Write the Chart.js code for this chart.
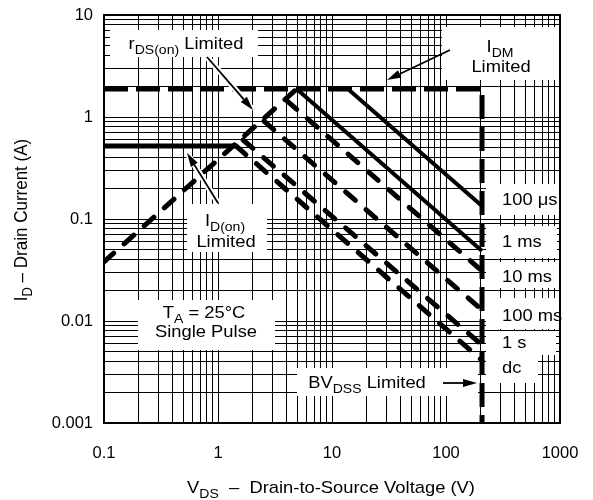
<!DOCTYPE html>
<html>
<head>
<meta charset="utf-8">
<script src="https://cdn.jsdelivr.net/npm/chart.js@4/dist/chart.umd.min.js"></script>
<style>
html,body{margin:0;padding:0;background:#fff;}
#wrap{width:593px;height:500px;position:relative;}
</style>
</head>
<body>
<div id="wrap"><canvas id="c" width="593" height="500"></canvas></div>
<script>
// ---- axis ticks ----
const xDecadeValues = [0.1, 1, 10, 100, 1000];
const xTickLabels   = ['0.1', '1', '10', '100', '1000'];
const yDecadeValues = [0.001, 0.01, 0.1, 1, 10];
const yTickLabels   = ['0.001', '0.01', '0.1', '1', '10'];
const minorSteps    = [1, 2, 3, 4, 5, 6, 7, 8, 9];

// ---- series: [V_DS (V), I_D (A)] ----
const idmBvLimit = [[0.1, 1.88], [207, 1.88], [207, 0.001]];
const idOnLimit  = [[0.1, 0.52], [1.44, 0.52]];
const rdsOnLimit = [[0.1, 0.038], [4.9, 1.88]];
const pulse100us = [[13.8, 1.88], [207, 0.134]];
const pulse1ms   = [[4.9, 1.88], [207, 0.0485]];
const pulse10ms  = [[4.03, 1.44], [207, 0.031]];
const pulse100ms = [[2.53, 0.91], [207, 0.0128]];
const pulse1s    = [[1.66, 0.595], [207, 0.0058]];
const pulseDC    = [[1.44, 0.52], [207, 0.0041]];

const FONT = '"Liberation Sans", Arial, Helvetica, sans-serif';

function gridValues(decades) {
  const out = [];
  for (let i = 0; i < decades.length - 1; i++) {
    for (const m of minorSteps) out.push(+(decades[i] * m).toPrecision(6));
  }
  out.push(decades[decades.length - 1]);
  return out;
}
function labelFor(decades, labels, v) {
  const i = decades.findIndex(d => Math.abs(d - v) / d < 1e-6);
  return i >= 0 ? labels[i] : '';
}
function toXY(arr) { return arr.map(([x, y]) => ({x, y})); }

function ds(label, arr, width, dash, cap) {
  return {
    label, data: toXY(arr), borderColor: '#000', backgroundColor: '#000',
    borderWidth: width, borderDash: dash || [], borderCapStyle: cap || 'butt',
    borderJoinStyle: 'miter', pointRadius: 0, fill: false, tension: 0
  };
}

function drawRich(ctx, parts, x, y, size, align, sx, subSize, subOff) {
  ctx.save();
  ctx.translate(x, y);
  ctx.scale(sx, 1);
  const sizes = parts.map(p => p.sub ? subSize : size);
  const widths = parts.map((p, i) => { ctx.font = sizes[i] + 'px ' + FONT; return ctx.measureText(p.t).width; });
  const total = widths.reduce((a, b) => a + b, 0);
  let cx = align === 'center' ? -total / 2 : (align === 'right' ? -total : 0);
  ctx.textBaseline = 'alphabetic';
  ctx.textAlign = 'left';
  ctx.fillStyle = '#000';
  parts.forEach((p, i) => {
    ctx.font = sizes[i] + 'px ' + FONT;
    ctx.fillText(p.t, cx, p.sub ? subOff : 0);
    cx += widths[i];
  });
  ctx.restore();
}

function arrow(ctx, x1, y1, x2, y2, halo) {
  const a = Math.atan2(y2 - y1, x2 - x1);
  const L = 14, W = 4;
  const bx = x2 - L * Math.cos(a), by = y2 - L * Math.sin(a);
  ctx.save();
  if (halo) {
    ctx.strokeStyle = '#fff'; ctx.lineWidth = 6; ctx.lineCap = 'butt';
    ctx.beginPath(); ctx.moveTo(x1, y1); ctx.lineTo(x2, y2); ctx.stroke();
  }
  ctx.strokeStyle = '#000'; ctx.lineWidth = 1.8;
  ctx.beginPath(); ctx.moveTo(x1, y1); ctx.lineTo(bx, by); ctx.stroke();
  ctx.fillStyle = '#000';
  ctx.beginPath();
  ctx.moveTo(x2, y2);
  ctx.lineTo(bx + W * Math.sin(a), by - W * Math.cos(a));
  ctx.lineTo(bx - W * Math.sin(a), by + W * Math.cos(a));
  ctx.closePath(); ctx.fill();
  ctx.restore();
}

const whiteBoxes = [
  [110, 30, 148, 27],   // rDS(on) Limited
  [442, 27, 117, 53],   // IDM Limited
  [187, 204, 80, 48],   // ID(on) Limited
  [138, 300, 137, 50],  // TA / Single Pulse
  [297, 368, 181, 28],  // BVDSS Limited
  [486, 184, 73, 31],   // 100 us
  [486, 226, 71, 32],   // 1 ms
  [486, 262, 73, 26],   // 10 ms
  [486, 298, 73, 31],   // 100 ms
  [486, 331, 70, 24],   // 1 s
  [486, 355, 52, 28]    // dc
];

const decor = {
  id: 'decor',
  beforeDatasetsDraw(chart) {
    const ctx = chart.ctx, a = chart.chartArea;
    ctx.save();
    ctx.fillStyle = '#fff';
    whiteBoxes.forEach(b => ctx.fillRect(b[0], b[1], b[2], b[3]));
    ctx.strokeStyle = '#000'; ctx.lineWidth = 2;
    ctx.strokeRect(a.left, a.top, a.right - a.left, a.bottom - a.top);
    ctx.restore();
  },
  afterDatasetsDraw(chart) {
    const ctx = chart.ctx;
    const S = 17, SX = 1.08, SUB = 13, OFF = 5;
    drawRich(ctx, [{t:'r'}, {t:'DS(on)', sub:true}, {t:' Limited'}], 186, 49, S, 'center', SX, SUB, OFF);
    drawRich(ctx, [{t:'I'}, {t:'DM', sub:true}], 500, 52, S, 'center', SX, SUB, OFF);
    drawRich(ctx, [{t:'Limited'}], 501, 72, S, 'center', SX, SUB, OFF);
    drawRich(ctx, [{t:'I'}, {t:'D(on)', sub:true}], 225, 226, S, 'center', SX, SUB, OFF);
    drawRich(ctx, [{t:'Limited'}], 226, 247, S, 'center', SX, SUB, OFF);
    drawRich(ctx, [{t:'T'}, {t:'A', sub:true}, {t:' = 25\u00B0C'}], 204, 318, S, 'center', SX, SUB, OFF);
    drawRich(ctx, [{t:'Single Pulse'}], 206, 337, S, 'center', SX, SUB, OFF);
    drawRich(ctx, [{t:'BV'}, {t:'DSS', sub:true}, {t:' Limited'}], 367, 388, S, 'center', SX, SUB, OFF);
    const rl = [['100 \u03BCs', 205], ['1 ms', 247], ['10 ms', 282], ['100 ms', 321], ['1 s', 348], ['dc', 373]];
    rl.forEach(([t, y]) => drawRich(ctx, [{t}], 502, y, S, 'left', SX, SUB, OFF));
    arrow(ctx, 207, 57, 253, 110, true);
    arrow(ctx, 450, 50, 387, 80, false);
    arrow(ctx, 218, 203, 187, 153, true);
    arrow(ctx, 443, 383, 477, 383, false);
    drawRich(ctx, [{t:'V'}, {t:'DS', sub:true}, {t:'  \u2013  Drain-to-Source Voltage (V)'}], 331, 493, S, 'center', SX, SUB, OFF);
    ctx.save();
    ctx.translate(27, 220);
    ctx.rotate(-Math.PI / 2);
    ctx.scale(1, 1.08);
    drawRich(ctx, [{t:'I'}, {t:'D', sub:true}, {t:' \u2013 Drain Current (A)'}], 0, 0, S, 'center', 1, SUB, OFF);
    ctx.restore();
  }
};

function zeroPad(s) { s.paddingTop = 0; s.paddingBottom = 0; s.paddingLeft = 0; s.paddingRight = 0; }

const dashedDiag = [13, 14];
new Chart(document.getElementById('c'), {
  type: 'line',
  data: {
    datasets: [
      ds('IDM / BVDSS Limited', idmBvLimit, 5, [24, 8], 'butt'),
      ds('ID(on) Limited', idOnLimit, 5, [], 'butt'),
      ds('rDS(on) Limited', rdsOnLimit, 5, dashedDiag, 'round'),
      ds('100 \u03BCs', pulse100us, 4, [], 'butt'),
      ds('1 ms', pulse1ms, 4, [], 'butt'),
      ds('10 ms', pulse10ms, 5, dashedDiag, 'round'),
      ds('100 ms', pulse100ms, 5, dashedDiag, 'round'),
      ds('1 s', pulse1s, 5, dashedDiag, 'round'),
      ds('dc', pulseDC, 5, dashedDiag, 'round')
    ]
  },
  options: {
    responsive: false,
    animation: false,
    devicePixelRatio: 1,
    layout: { padding: { top: 15, right: 33, bottom: 0, left: 0 } },
    plugins: { legend: { display: false }, tooltip: { enabled: false }, title: { display: false } },
    scales: {
      x: {
        type: 'logarithmic', min: 0.1, max: 1000,
        afterBuildTicks: s => { s.ticks = gridValues(xDecadeValues).map(v => ({value: v})); },
        afterFit: s => { s.height = 77; zeroPad(s); },
        grid: { color: '#000', lineWidth: 1, drawTicks: false },
        border: { display: false },
        ticks: {
          autoSkip: false, maxRotation: 0, minRotation: 0, padding: 21, color: '#000',
          font: { family: FONT, size: 16.5 },
          callback: v => labelFor(xDecadeValues, xTickLabels, v)
        },
        title: { display: false }
      },
      y: {
        type: 'logarithmic', min: 0.001, max: 10,
        afterBuildTicks: s => { s.ticks = gridValues(yDecadeValues).map(v => ({value: v})); },
        afterFit: s => { s.width = 104; zeroPad(s); },
        grid: { color: '#000', lineWidth: 1, drawTicks: false },
        border: { display: false },
        ticks: {
          autoSkip: false, padding: 11, color: '#000',
          font: { family: FONT, size: 16.5 },
          callback: v => labelFor(yDecadeValues, yTickLabels, v)
        },
        title: { display: false }
      }
    }
  },
  plugins: [decor]
});
</script>
</body>
</html>
